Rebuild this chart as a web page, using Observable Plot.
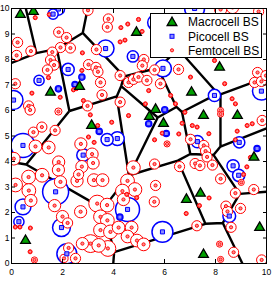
<!DOCTYPE html>
<html><head><meta charset="utf-8">
<script src="https://cdn.jsdelivr.net/npm/d3@7"></script>
<script src="https://cdn.jsdelivr.net/npm/@observablehq/plot@0.6"></script>
<style>
body{margin:0;background:#fff;}
#wrap{position:relative;width:273px;height:284px;}
#legend{position:absolute;left:150px;top:13px;}
#legend text{font-family:"Liberation Sans",Arial,sans-serif;font-size:12px;fill:#000;}
</style></head><body><div id="wrap"></div>
<script>
// Macrocell base stations
const macroX = [0.35,0.86,4.90,1.53,2.67,3.14,7.06,8.16,5.65,5.41,5.96,7.53,8.86,9.51,7.41,6.86,9.73,7.53,0.55];
const macroY = [9.76,9.88,9.06,6.71,6.94,5.41,6.71,7.69,6.04,5.76,5.49,5.80,5.80,4.16,2.75,2.51,1.41,0.35,0.90];
// Picocell base stations (coverage radius in data units)
const picoX = [1.63,1.84,3.69,4.76,2.22,1.08,1.84,2.49,2.76,0.08,3.44,3.75,4.15,0.45,2.81,1.73,0.45,0.29,1.96,2.17,4.55,4.25,5.65,7.18,5.94,7.96,9.80,6.01,5.38,6.07,7.29,8.93,9.63,8.69,8.91,8.54,5.92];
const picoY = [9.78,9.98,8.43,8.12,7.61,7.18,6.85,7.02,7.31,6.41,5.18,4.86,4.90,4.63,4.25,2.81,2.22,1.64,1.41,0.38,2.12,1.82,9.45,10.0,7.65,6.59,6.76,6.03,5.48,5.10,4.78,4.75,4.51,3.83,3.46,1.86,1.24];
const picoR = [0.20,0.24,0.33,0.22,0.24,0.20,0.12,0.12,0.12,0.37,0.12,0.24,0.27,0.47,0.25,0.51,0.31,0.20,0.35,0.39,0.47,0.12,0.31,0.39,0.33,0.24,0.35,0.12,0.12,0.12,0.24,0.22,0.12,0.24,0.24,0.25,0.41];
// Femtocell base stations (coverage radius in data units)
const femtoX = [1.48,0.93,3.00,3.80,3.76,4.29,4.56,4.98,5.12,4.45,4.26,3.33,3.02,3.31,3.39,2.76,2.78,1.85,2.16,2.31,
  1.92,1.60,0.24,0.20,0.76,1.53,1.67,1.41,4.26,4.59,4.78,8.20,8.67,9.69,5.19,5.13,4.98,5.31,5.38,5.61,
  5.84,6.55,7.02,7.96,8.36,9.65,9.53,9.80,9.98,0.15,0.80,1.45,1.91,0.67,0.73,1.84,0.86,1.19,1.71,3.49,
  3.55,2.82,2.98,2.43,2.55,4.26,4.59,3.93,3.09,3.38,6.24,6.43,6.80,8.65,8.78,8.20,8.20,9.24,9.44,9.83,
  6.69,7.09,7.28,7.74,6.56,8.85,5.25,5.91,0.94,1.46,0.09,1.85,1.84,1.20,0.67,0.16,0.68,0.76,1.92,1.69,
  2.00,2.20,2.72,3.16,3.20,2.76,2.63,2.57,3.23,3.57,3.02,3.24,4.78,4.55,4.84,4.35,3.36,3.75,3.49,3.76,
  3.49,3.88,3.10,3.42,3.78,2.78,2.24,2.06,2.51,2.71,0.15,0.33,0.74,0.73,0.90,4.39,4.52,4.91,4.20,4.71,
  4.55,4.92,5.18,5.61,6.10,7.02,7.54,7.61,7.67,8.78,9.37,9.23,5.61,6.59,7.20,7.39,7.88,8.20,9.10,9.01,
  8.78,9.50,5.65,5.60,6.85,7.37,7.75,8.41,8.47,8.98,7.27,8.61,8.16,8.20,8.71,9.81];
const femtoY = [9.76,9.64,9.93,9.59,9.27,9.25,9.39,9.57,9.10,8.76,8.69,8.39,7.80,7.69,7.52,7.57,8.26,9.07,8.86,8.45,
  8.47,8.29,8.67,8.16,8.33,7.98,7.78,7.59,7.37,7.10,7.22,9.96,10.04,9.88,8.00,7.76,7.31,7.18,6.78,7.59,
  7.05,7.61,7.31,7.96,7.05,7.49,7.10,7.14,7.37,7.05,6.68,7.29,6.52,6.18,6.02,5.96,5.15,5.35,5.22,7.10,
  6.61,6.39,6.18,6.81,6.86,6.33,5.80,5.54,5.83,5.41,6.59,6.26,5.93,6.46,6.26,6.00,5.86,5.41,5.48,5.61,
  5.50,5.41,5.35,5.09,5.08,5.19,6.26,5.11,4.59,4.55,4.11,3.98,3.67,3.46,3.39,3.08,2.86,2.47,3.20,2.27,
  1.84,1.59,4.69,4.29,3.94,3.80,3.49,3.24,3.27,3.27,4.96,4.75,3.76,3.24,2.90,2.84,2.35,2.29,1.83,1.69,
  1.31,1.24,0.78,0.71,0.59,0.78,0.61,0.20,0.20,2.03,1.43,1.43,1.39,0.46,0.14,2.51,2.71,2.58,1.41,1.41,
  1.06,0.90,0.75,4.85,4.69,4.87,4.63,4.41,4.18,4.85,4.16,3.79,3.90,3.80,3.92,3.84,3.86,3.32,3.49,3.18,
  2.76,2.90,3.06,2.42,1.96,2.27,2.57,2.25,2.04,2.16,1.48,1.42,0.76,0.16,0.44,0.14];
const femtoR = [0.08,0.08,0.20,0.20,0.20,0.08,0.08,0.08,0.08,0.08,0.08,0.20,0.20,0.20,0.20,0.08,0.08,0.20,0.20,0.20,
  0.20,0.20,0.20,0.20,0.20,0.20,0.20,0.20,0.20,0.20,0.20,0.24,0.24,0.20,0.20,0.20,0.20,0.20,0.08,0.20,
  0.20,0.20,0.08,0.08,0.08,0.20,0.20,0.20,0.20,0.20,0.08,0.08,0.08,0.20,0.20,0.14,0.20,0.20,0.20,0.20,
  0.20,0.08,0.20,0.08,0.08,0.20,0.08,0.08,0.08,0.08,0.08,0.08,0.08,0.08,0.08,0.12,0.12,0.08,0.08,0.20,
  0.08,0.08,0.08,0.08,0.08,0.08,0.08,0.08,0.25,0.25,0.25,0.24,0.24,0.27,0.27,0.27,0.27,0.24,0.24,0.24,
  0.24,0.20,0.24,0.24,0.24,0.24,0.20,0.24,0.25,0.25,0.08,0.08,0.27,0.27,0.27,0.27,0.33,0.27,0.27,0.27,
  0.27,0.27,0.35,0.27,0.31,0.24,0.20,0.16,0.20,0.24,0.08,0.08,0.08,0.08,0.12,0.24,0.08,0.08,0.25,0.25,
  0.25,0.25,0.25,0.08,0.12,0.20,0.20,0.20,0.20,0.08,0.08,0.08,0.20,0.20,0.20,0.20,0.20,0.20,0.08,0.12,
  0.20,0.20,0.20,0.20,0.08,0.08,0.08,0.20,0.20,0.20,0.20,0.20,0.12,0.12,0.20,0.20];
const xTicks = [0,2,4,6,8,10];
const yTicks = [0,1,2,3,4,5,6,7,8,9,10];
const legendLabels = ["Macrocell BS","Picocell BS","Femtocell BS"];

const macros = macroX.map((x,i)=>({x, y: macroY[i]}));
const picos = picoX.map((x,i)=>({x, y: picoY[i], r: picoR[i]}));
const femtos = femtoX.map((x,i)=>({x, y: femtoY[i], r: femtoR[i]}));

const W = 273, H = 284, ml = 11, mr = 7, mt = 8, mb = 21;
const font = '"Liberation Sans", Arial, sans-serif';
const green = "#00a000";

const chart = Plot.plot({
  width: W, height: H,
  marginLeft: ml, marginRight: mr, marginTop: mt, marginBottom: mb,
  style: {fontFamily: font, fontSize: "8.5px", color: "#000", background: "#fff", overflow: "visible"},
  x: {domain: [0, 10], label: null},
  y: {domain: [0, 10], label: null},
  r: {type: "linear", domain: [0, 10], range: [0, W - ml - mr]},
  marks: [
    Plot.voronoiMesh(macros, {x: "x", y: "y", stroke: "#000", strokeWidth: 2.4, strokeOpacity: 1}),
    Plot.dot(picos, {x: "x", y: "y", r: "r", stroke: "#0000ff", strokeWidth: 1.5, fill: "#fff", clip: true}),
    Plot.dot(femtos, {x: "x", y: "y", r: "r", stroke: "#ff0000", strokeWidth: 1, fill: "#fff", clip: true}),
    Plot.dot(femtos, {x: "x", y: "y", r: 1.6, stroke: "#ff0000", strokeWidth: 0.9, fill: "#ff8a8a", clip: true}),
    Plot.dot(picos, {x: "x", y: "y", symbol: "square", r: 2.3, stroke: "#0000ff", strokeWidth: 1, fill: "#8c8cff", clip: true}),
    Plot.dot(macros, {x: "x", y: "y", symbol: "triangle", r: 3.6, fill: green, stroke: "#000", strokeWidth: 1.3, clip: true}),
    Plot.frame({stroke: "#000", strokeWidth: 1}),
    Plot.axisX(xTicks, {anchor: "bottom", tickSize: -4, tickPadding: 9, label: null}),
    Plot.axisX(xTicks, {anchor: "top", tickSize: -4, tickFormat: () => "", label: null}),
    Plot.axisY(yTicks, {anchor: "left", tickSize: -4, tickPadding: 6, label: null}),
    Plot.axisY(yTicks, {anchor: "right", tickSize: -4, tickFormat: () => "", label: null})
  ]
});
const wrap = document.getElementById("wrap");
wrap.appendChild(chart);

// Legend (inside the plot, upper right)
const lg = d3.select(wrap).append("svg").attr("id", "legend").attr("width", 113).attr("height", 46);
lg.append("rect").attr("x", 0.5).attr("y", 0.5).attr("width", 111).attr("height", 44)
  .attr("fill", "#fff").attr("stroke", "#000").attr("stroke-width", 1);
const rowsY = [8.5, 23.3, 37.3];
lg.append("path").attr("d", d3.symbol(d3.symbolTriangle, 41)()).attr("transform", `translate(22,${rowsY[0] + 1.2})`)
  .attr("fill", green).attr("stroke", "#000").attr("stroke-width", 1.3);
lg.append("rect").attr("x", 20).attr("y", rowsY[1] - 2).attr("width", 4).attr("height", 4)
  .attr("fill", "#8c8cff").attr("stroke", "#0000ff").attr("stroke-width", 1);
lg.append("circle").attr("cx", 22).attr("cy", rowsY[2]).attr("r", 1.6)
  .attr("fill", "#ff8a8a").attr("stroke", "#ff0000").attr("stroke-width", 0.9);
legendLabels.forEach((t, i) => {
  lg.append("text").attr("x", 38).attr("y", rowsY[i]).attr("dy", "0.35em").text(t);
});
</script></body></html>
